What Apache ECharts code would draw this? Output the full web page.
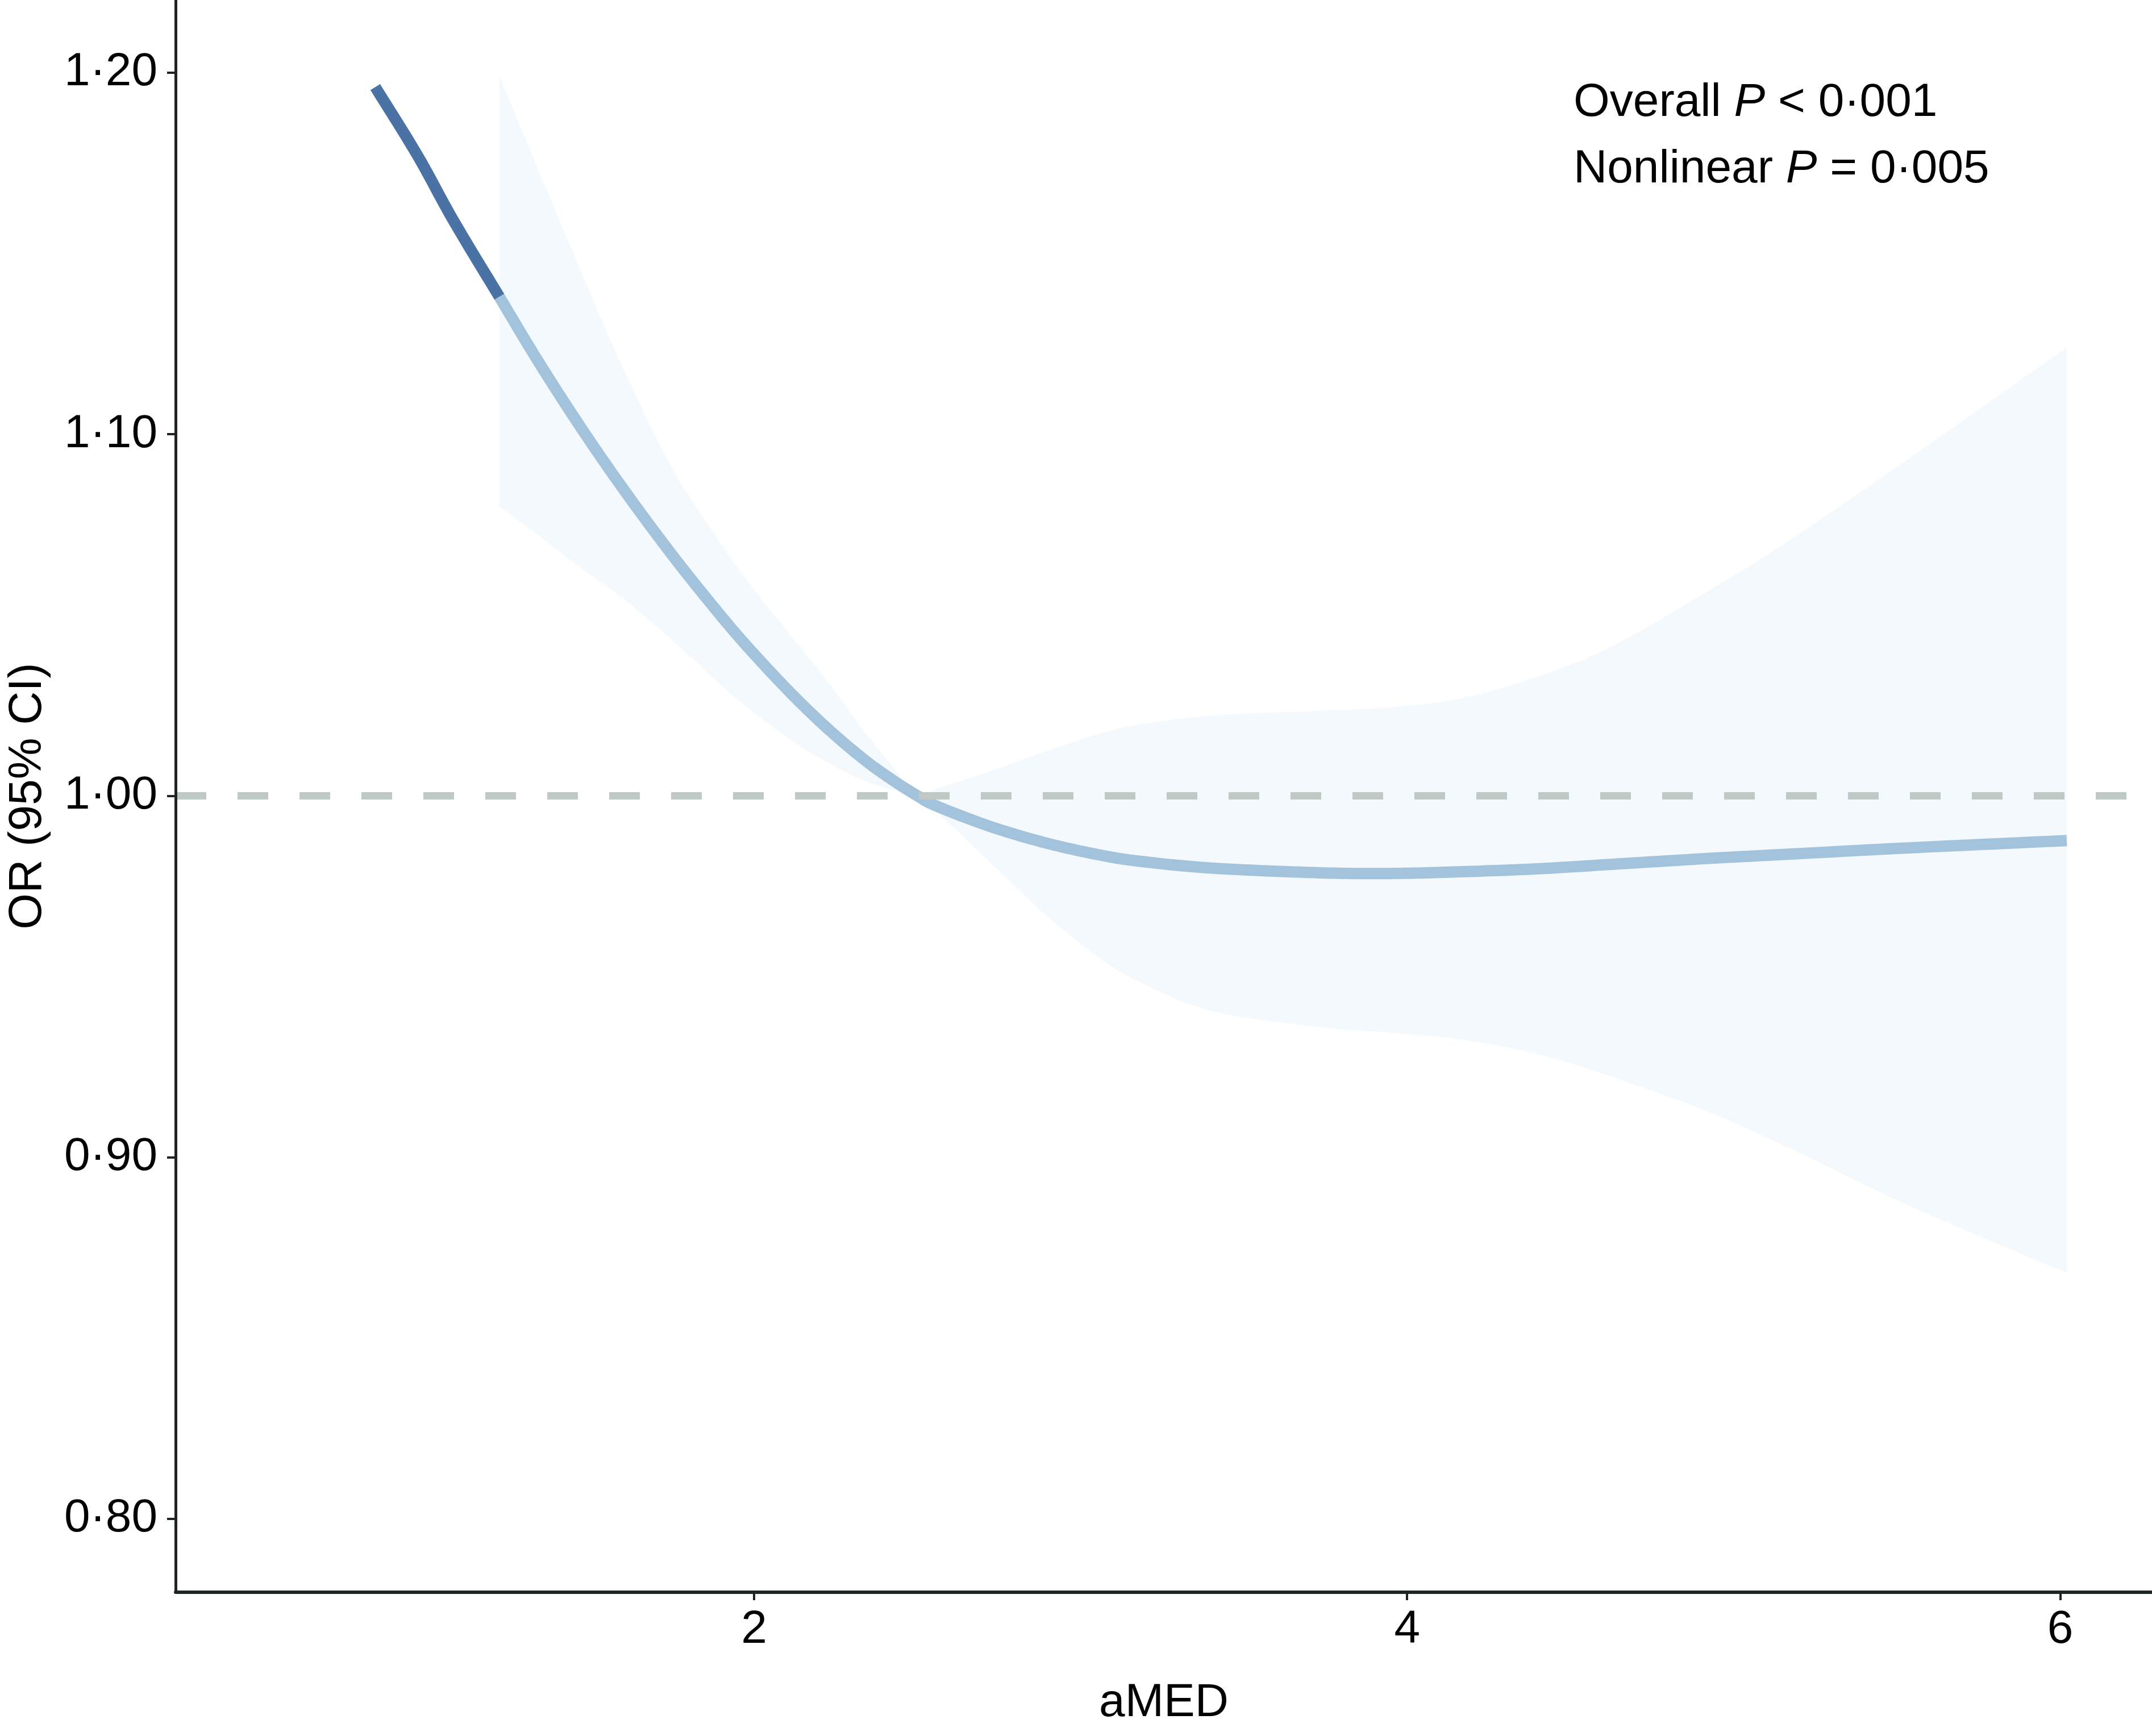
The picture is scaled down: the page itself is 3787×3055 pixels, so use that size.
<!DOCTYPE html>
<html>
<head>
<meta charset="utf-8">
<script src="https://cdn.jsdelivr.net/npm/echarts@6/dist/echarts.min.js"></script>
<style>
html,body{margin:0;padding:0;background:#ffffff;}
#chart{width:3787px;height:3055px;}
</style>
</head>
<body>
<div id="chart"></div>
<script>
// ---- data ----
const xTicks = [2, 4, 6];
const yTicks = [0.80, 0.90, 1.00, 1.10, 1.20];
const refValue = 1.0;

// dark segment of the spline (outside the CI range)
const darkX = [0.84, 0.97, 1.08, 1.22];
const darkY = [1.196, 1.177, 1.159, 1.138];

// spline estimate with 95% CI
const aMED    = [1.22, 1.34, 1.47, 1.60, 1.75, 1.90, 2.00, 2.12, 2.23, 2.34, 2.43, 2.50, 2.56, 2.73, 2.90, 3.06, 3.18, 3.40, 3.73, 3.95, 4.17, 4.40, 4.62, 4.91, 5.16, 5.54, 6.02];
const orValue = [1.138, 1.120, 1.1018, 1.0848, 1.0665, 1.0496, 1.0392, 1.0277, 1.0182, 1.0098, 1.0040, 1.000, 0.9971, 0.9913, 0.9868, 0.9836, 0.9819, 0.9800, 0.9787, 0.9785, 0.9790, 0.9798, 0.9810, 0.9826, 0.9838, 0.9856, 0.9876];
const ciLower = [1.080, 1.072, 1.063, 1.0545, 1.043, 1.0305, 1.023, 1.015, 1.009, 1.004, 1.0015, 1.000, 0.9955, 0.981, 0.9665, 0.9550, 0.9485, 0.9405, 0.9360, 0.9345, 0.9325, 0.9285, 0.9225, 0.913, 0.903, 0.8865, 0.868];
const ciUpper = [1.199, 1.173, 1.145, 1.118, 1.0905, 1.0695, 1.057, 1.0435, 1.031, 1.0175, 1.0075, 1.000, 1.002, 1.007, 1.0125, 1.0172, 1.0197, 1.0222, 1.0235, 1.0245, 1.027, 1.033, 1.041, 1.056, 1.070, 1.0935, 1.124];

const annotation = [
  ['Overall ', 'P', ' < 0·001'],
  ['Nonlinear ', 'P', ' = 0·005']
];
const xName = 'aMED';
const yName = 'OR (95% CI)';

// ---- chart ----
const FONT = '"Liberation Sans", Arial, Helvetica, sans-serif';
const chart = echarts.init(document.getElementById('chart'), null, {renderer: 'canvas'});
const fmt = v => v.toFixed(2).replace('.', '·');

// Catmull-Rom subdivision in pixel space (rendering only)
function catmull(pts, steps) {
  const out = [];
  const n = pts.length;
  for (let i = 0; i < n - 1; i++) {
    const p0 = pts[Math.max(0, i - 1)], p1 = pts[i], p2 = pts[i + 1], p3 = pts[Math.min(n - 1, i + 2)];
    for (let s = 0; s < steps; s++) {
      const t = s / steps, t2 = t * t, t3 = t2 * t;
      const f = k => 0.5 * ((2 * p1[k]) + (-p0[k] + p2[k]) * t + (2 * p0[k] - 5 * p1[k] + 4 * p2[k] - p3[k]) * t2 + (-p0[k] + 3 * p1[k] - 3 * p2[k] + p3[k]) * t3);
      out.push([f(0), f(1)]);
    }
  }
  out.push(pts[n - 1].slice());
  return out;
}

const bandData = aMED.map((x, i) => [x, ciLower[i], ciUpper[i]]);
const orData = aMED.map((x, i) => [x, orValue[i]]);
const darkData = darkX.map((x, i) => [x, darkY[i]]);

function curveSeries(name, data, color, z) {
  return {
    name: name,
    type: 'custom',
    data: data,
    encode: {x: 0, y: 1},
    z: z,
    silent: true,
    renderItem: function (params, api) {
      if (params.dataIndex !== 0) return null;
      const pts = data.map(d => api.coord(d));
      return {
        type: 'polyline',
        shape: {points: catmull(pts, 16)},
        style: {stroke: color, lineWidth: 20, fill: null, lineCap: 'butt', lineJoin: 'round'}
      };
    }
  };
}

const option = {
  backgroundColor: '#ffffff',
  animation: false,
  grid: {left: 304, right: 0, top: 0, bottom: 253, containLabel: false},
  xAxis: {
    type: 'value',
    min: 0.2285,
    max: 6.281,
    name: xName,
    nameLocation: 'middle',
    nameGap: 154,
    nameTextStyle: {fontSize: 82, color: '#000', fontFamily: FONT},
    axisLine: {show: true, lineStyle: {color: '#1e2525', width: 6}},
    axisTick: {show: true, length: 14, lineStyle: {color: '#1e2525', width: 4}, customValues: xTicks},
    axisLabel: {show: true, fontSize: 82, color: '#000', fontFamily: FONT, margin: 25, customValues: xTicks, formatter: v => String(v)},
    splitLine: {show: false},
    z: 10
  },
  yAxis: {
    type: 'value',
    min: 0.7797,
    max: 1.2201,
    name: yName,
    nameLocation: 'middle',
    nameGap: 219,
    nameTextStyle: {fontSize: 82, color: '#000', fontFamily: FONT},
    axisLine: {show: true, lineStyle: {color: '#1e2525', width: 5}},
    axisTick: {show: true, length: 15, lineStyle: {color: '#1e2525', width: 4}, customValues: yTicks},
    axisLabel: {show: true, fontSize: 82, color: '#000', fontFamily: FONT, margin: 32, customValues: yTicks, formatter: fmt},
    splitLine: {show: false},
    z: 10
  },
  series: [
    {
      name: 'ci',
      type: 'custom',
      data: bandData,
      encode: {x: 0, y: [1, 2]},
      z: 1,
      silent: true,
      renderItem: function (params, api) {
        if (params.dataIndex !== 0) return null;
        const up = bandData.map(d => api.coord([d[0], d[2]]));
        const lo = bandData.map(d => api.coord([d[0], d[1]]));
        const upS = catmull(up, 16);
        const loS = catmull(lo, 16).reverse();
        return {
          type: 'polygon',
          shape: {points: upS.concat(loS)},
          style: {fill: '#F4F9FD', stroke: null}
        };
      }
    },
    curveSeries('dark', darkData, '#4A72A5', 2),
    curveSeries('or', orData, '#A3C2DC', 3),
    {
      name: 'ref',
      type: 'line',
      data: [],
      z: 5,
      markLine: {
        silent: true,
        symbol: ['none', 'none'],
        label: {show: false},
        lineStyle: {color: '#BFC9C6', width: 13, type: [54, 55], cap: 'butt'},
        data: [{yAxis: refValue}]
      }
    }
  ],
  graphic: annotation.map((parts, k) => ({
    type: 'text',
    left: 2769,
    top: k === 0 ? 140 : 257,
    z: 100,
    style: {
      text: '{a|' + parts[0] + '}{i|' + parts[1] + '}{a|' + parts[2] + '}',
      rich: {
        a: {fontSize: 82, fontFamily: FONT, fill: '#000', color: '#000'},
        i: {fontSize: 82, fontFamily: FONT, fontStyle: 'italic', fill: '#000', color: '#000'}
      }
    }
  }))
};
chart.setOption(option);
</script>
</body>
</html>
